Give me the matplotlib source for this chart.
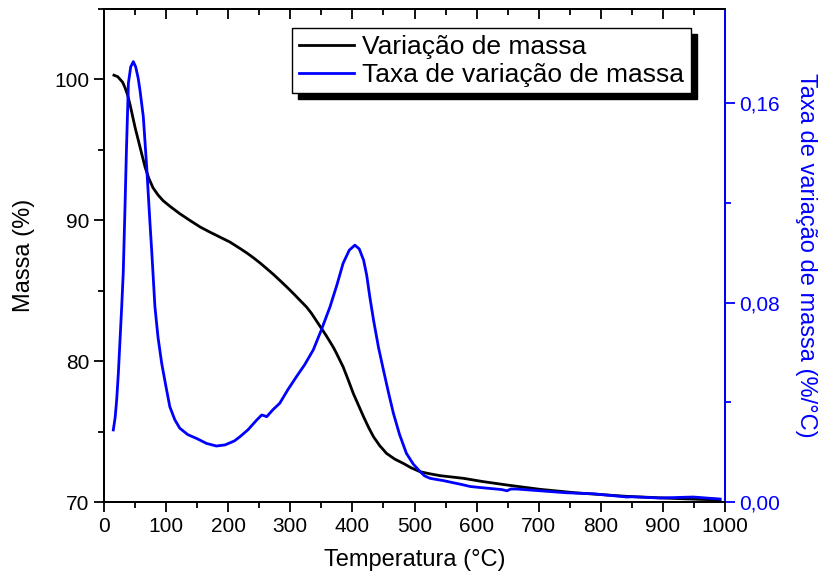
import matplotlib
matplotlib.use("Agg")
import matplotlib.pyplot as plt
from matplotlib.patches import Shadow
from matplotlib.ticker import MultipleLocator, FuncFormatter

plt.rcParams['font.family'] = ['Liberation Sans', 'DejaVu Sans']

# massa (%) vs temperatura
temp_massa = [16, 22, 26, 30, 34, 38, 42, 46, 50, 54, 58, 62, 66, 72, 79, 87, 95,
              106, 122, 138, 155, 171, 187, 203, 219, 230, 240, 251, 262, 273, 283,
              294, 305, 316, 326, 334, 340, 346, 352, 358, 364, 370, 375, 380, 385,
              393, 401.5, 410, 418, 426, 434, 444, 455, 468, 482, 495, 509, 525, 541,
              579, 610, 650, 702, 760, 842, 920, 992]
massa = [100.3, 100.2, 100.0, 99.8, 99.4, 98.9, 98.2, 97.4, 96.6, 95.9, 95.2, 94.5,
         93.8, 93.0, 92.3, 91.8, 91.4, 91.0, 90.47, 90.0, 89.52, 89.15, 88.8, 88.45,
         88.0, 87.68, 87.36, 86.98, 86.57, 86.15, 85.74, 85.28, 84.8, 84.3, 83.85,
         83.4, 83.0, 82.6, 82.2, 81.8, 81.37, 80.93, 80.5, 80.05, 79.6, 78.7, 77.7,
         76.85, 76.05, 75.3, 74.63, 74.0, 73.45, 73.05, 72.74, 72.42, 72.15, 72.0,
         71.87, 71.68, 71.45, 71.2, 70.9, 70.65, 70.4, 70.25, 70.14]

# taxa de variacao de massa (%/°C)
temp_taxa = [15, 18, 20.4, 23.1, 28.5, 31, 33.8, 36, 39.3, 43, 47.2, 51, 55, 58,
             63.3, 68.7, 74, 77, 82, 87, 92.9, 100, 106, 114, 122, 135, 149, 165,
             181, 195, 210, 219, 232, 246, 254, 258, 262, 272, 283, 296, 310, 323,
             337, 350, 364, 375, 385, 395, 404, 411, 418, 423, 428, 434, 442, 450,
             458, 466, 476, 487, 498, 509, 516, 525, 541, 546, 578, 590, 610, 640,
             649, 655, 665, 702, 745, 788, 842, 850, 895, 949, 975, 992]
taxa = [0.0289, 0.034, 0.0409, 0.0516, 0.0783, 0.092, 0.118, 0.140, 0.168, 0.1745,
        0.1766, 0.1745, 0.170, 0.165, 0.1545, 0.1345, 0.112, 0.100, 0.0783, 0.066,
        0.0556, 0.046, 0.0382, 0.033, 0.0296, 0.027, 0.0255, 0.0235, 0.02245, 0.0229,
        0.0245, 0.0262, 0.029, 0.0329, 0.0349, 0.0346, 0.0342, 0.037, 0.0396, 0.0450,
        0.0503, 0.055, 0.061, 0.069, 0.0783, 0.087, 0.0957, 0.101, 0.103, 0.1015,
        0.097, 0.091, 0.0823, 0.073, 0.062, 0.0529, 0.044, 0.0356, 0.027, 0.0195,
        0.0152, 0.0122, 0.0105, 0.0095, 0.0088, 0.0086, 0.0069, 0.0062, 0.0057, 0.0050,
        0.0045, 0.0052, 0.0052, 0.0045, 0.0037, 0.0033, 0.0020, 0.0021, 0.0016, 0.0020,
        0.0015, 0.0012]

fig = plt.figure(figsize=(8.19, 5.81), dpi=100)
ax = fig.add_axes([104/819, 1-502/581, 621/819, 493/581])
ax2 = ax.twinx()

l1, = ax.plot(temp_massa, massa, color='black', lw=2.0)
l2, = ax2.plot(temp_taxa, taxa, color='#0000ff', lw=2.0)

ax.set_xlim(0, 1000)
ax.set_ylim(70, 105)
ax2.set_ylim(0, 0.1977)

ax.xaxis.set_major_locator(MultipleLocator(100))
ax.xaxis.set_minor_locator(MultipleLocator(50))
ax.yaxis.set_major_locator(MultipleLocator(10))
ax.yaxis.set_minor_locator(MultipleLocator(5))
ax2.yaxis.set_major_locator(MultipleLocator(0.08))
ax2.yaxis.set_minor_locator(MultipleLocator(0.04))
ax2.yaxis.set_major_formatter(FuncFormatter(lambda v, p: f"{v:.2f}".replace('.', ',')))

for sp in ax.spines.values():
    sp.set_linewidth(1.4)
for sp in ax2.spines.values():
    sp.set_linewidth(1.4)
ax2.spines['right'].set_color('#0000ff')

ax.tick_params(axis='both', which='major', labelsize=15, width=1.3, length=7,
               direction='out', top=False, right=False)
ax.tick_params(axis='both', which='minor', width=1.3, length=4, direction='out',
               top=False, right=False)

# top ticks point inward, no labels
secx = ax.secondary_xaxis('top')
secx.xaxis.set_major_locator(MultipleLocator(100))
secx.xaxis.set_minor_locator(MultipleLocator(50))
secx.tick_params(which='major', direction='in', length=7, width=1.3, labeltop=False)
secx.tick_params(which='minor', direction='in', length=4.5, width=1.3)
secx.spines['top'].set_linewidth(1.4)

ax2.tick_params(axis='y', which='major', colors='#0000ff', labelsize=15, width=1.3,
                length=7, direction='out')
ax2.tick_params(axis='y', which='minor', colors='#0000ff', width=1.3, length=4,
                direction='out')

ax.set_xlabel('Temperatura (°C)', fontsize=17, labelpad=10)
ax.set_ylabel('Massa (%)', fontsize=17, labelpad=14)
ax2.set_ylabel('Taxa de variação de massa (%/°C)', fontsize=17, color='#0000ff',
               rotation=270, labelpad=26)

leg = ax2.legend([l1, l2], ['Variação de massa', 'Taxa de variação de massa'],
                 loc='upper right', bbox_to_anchor=(0.945, 0.961), borderaxespad=0,
                 fontsize=19, fancybox=False, edgecolor='black', framealpha=1,
                 handlelength=2.1, handletextpad=0.3, borderpad=0.25,
                 labelspacing=0.15)
leg.get_frame().set_linewidth(1.0)
leg.set_zorder(6)
sh = Shadow(leg.legendPatch, 4.3, -4.3, color='black', alpha=1)
sh.set_zorder(5.5)
ax2.add_artist(sh)

fig.canvas.draw()
fig.savefig('out.png', dpi=100)
